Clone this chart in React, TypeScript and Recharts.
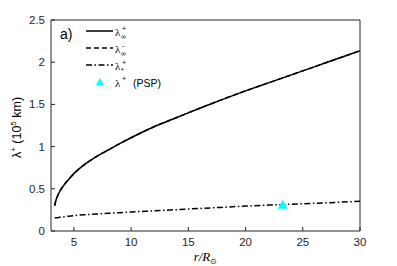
import React from 'react';
import { ComposedChart, Line, Scatter, XAxis, YAxis, Legend, Label } from 'recharts';

// radial distance r / R_sun
const rValues = [3.33, 3.4, 3.5, 3.75, 4, 4.5, 5, 6, 7, 8, 9, 10, 12, 14, 16, 18, 20, 22, 24, 26, 28, 30];
// lambda+ at infinity (10^5 km)
const lambdaInfPlus = [0.3, 0.35, 0.39, 0.465, 0.52, 0.605, 0.68, 0.795, 0.885, 0.96, 1.035, 1.105, 1.235, 1.345, 1.455, 1.56, 1.66, 1.755, 1.85, 1.945, 2.04, 2.135];
// lambda- at infinity, lies under the solid curve
const lambdaInfMinus = [0.3, 0.35, 0.39, 0.465, 0.52, 0.605, 0.68, 0.795, 0.885, 0.96, 1.035, 1.105, 1.235, 1.345, 1.455, 1.56, 1.66, 1.755, 1.85, 1.945, 2.04, 2.135];
// lambda*+
const lambdaStarPlus = [0.155, 0.156, 0.158, 0.162, 0.166, 0.175, 0.183, 0.193, 0.201, 0.209, 0.217, 0.225, 0.239, 0.253, 0.267, 0.281, 0.295, 0.307, 0.318, 0.329, 0.34, 0.352];
// PSP measurement
const pspR = [23.25];
const pspLambda = [0.31];

const xTicks = [5, 10, 15, 20, 25, 30];
const yTicks = [0, 0.5, 1, 1.5, 2, 2.5];

const legendItems = [
  { sup: '+', sub: '\u221e', dash: undefined as string | undefined },
  { sup: '-', sub: '\u221e', dash: '5 3' },
  { sup: '+', sub: '*', dash: '6 2.5 1.5 2.5' },
];

const data = rValues.map((r, i) => ({
  r,
  infPlus: lambdaInfPlus[i],
  infMinus: lambdaInfMinus[i],
  starPlus: lambdaStarPlus[i],
}));
const pspData = pspR.map((r, i) => ({ r, psp: pspLambda[i] }));

const AXIS = '#262626';
const sans = '"Liberation Sans", Arial, sans-serif';
const serif = '"Liberation Serif", "Times New Roman", serif';

const Triangle = (props: any) => {
  const { cx, cy } = props;
  return <polygon points={`${cx},${cy - 5} ${cx - 5},${cy + 4} ${cx + 5},${cy + 4}`} fill="#00ffff" />;
};

const LegendBox = () => (
  <svg width={130} height={80} style={{ display: 'block' }}>
    <text x={10} y={21} fontFamily={sans} fontSize={14} fill="#000">a)</text>
    {legendItems.map((item, i) => {
      const y = 13 + i * 17;
      return (
        <g key={i}>
          <line x1={36} x2={63} y1={y} y2={y} stroke="#000" strokeWidth={1.5} strokeDasharray={item.dash} />
          <text x={65} y={y + 5} fontFamily={serif} fontSize={11}>{'\u03bb'}</text>
          <text x={72} y={y} fontFamily={sans} fontSize={7}>{item.sup}</text>
          <text x={71} y={y + 8} fontFamily={sans} fontSize={7}>{item.sub}</text>
        </g>
      );
    })}
    <polygon points="50,60 46,67 54,67" fill="#00ffff" />
    <text x={65} y={69} fontFamily={serif} fontSize={11}>{'\u03bb'}</text>
    <text x={72} y={63} fontFamily={sans} fontSize={7}>+</text>
    <text x={83} y={69} fontFamily={sans} fontSize={10.5}>(PSP)</text>
  </svg>
);

const YLabel = (props: any) => {
  const { viewBox } = props;
  const cx = 21;
  const cy = viewBox.y + viewBox.height / 2 + 2;
  return (
    <text x={cx} y={cy} transform={`rotate(-90 ${cx} ${cy})`} textAnchor="middle" fontFamily={sans} fontSize={12.5} fill="#000">
      {'\u03bb'}
      <tspan fontSize={8} dy={-5}>+</tspan>
      <tspan dy={5}>{' (10'}</tspan>
      <tspan fontSize={8} dy={-5}>5</tspan>
      <tspan dy={5}>{' km)'}</tspan>
    </text>
  );
};

const XLabel = (props: any) => {
  const { viewBox } = props;
  const cx = viewBox.x + viewBox.width / 2;
  return (
    <text x={cx} y={261} textAnchor="middle" fontFamily={serif} fontSize={13} fontStyle="italic" fill="#000">
      r/R
      <tspan fontSize={8} fontStyle="normal" dy={3}>{'\u2299'}</tspan>
    </text>
  );
};

const App: React.FC = () => {
  const tickStyle = { fontFamily: sans, fontSize: 11.5, fill: AXIS };
  return (
    <div style={{ position: 'absolute', left: 0, top: 0, background: '#fff' }}>
      <ComposedChart width={397} height={266} data={data} margin={{ top: 19, right: 36, left: 0, bottom: 0 }}>
        <XAxis
          xAxisId="main"
          dataKey="r"
          type="number"
          domain={[3, 30]}
          ticks={xTicks}
          allowDataOverflow
          height={35}
          stroke={AXIS}
          tickSize={-4}
          tickMargin={11}
          tick={tickStyle}
        >
          <Label content={XLabel} />
        </XAxis>
        <XAxis
          xAxisId="top"
          orientation="top"
          dataKey="r"
          type="number"
          domain={[3, 30]}
          ticks={xTicks}
          allowDataOverflow
          height={1}
          stroke={AXIS}
          tickSize={-4}
          tick={false}
        />
        <YAxis
          yAxisId="main"
          type="number"
          domain={[0, 2.5]}
          ticks={yTicks}
          width={51}
          stroke={AXIS}
          tickSize={-4}
          tickMargin={10}
          tick={tickStyle}
        >
          <Label content={YLabel} />
        </YAxis>
        <YAxis
          yAxisId="right"
          orientation="right"
          type="number"
          domain={[0, 2.5]}
          ticks={yTicks}
          width={1}
          stroke={AXIS}
          tickSize={-4}
          tick={false}
        />
        <Legend
          layout="vertical"
          align="center"
          verticalAlign="middle"
          content={LegendBox}
          wrapperStyle={{ left: 50, top: 18, width: 130, height: 80 }}
        />
        <Line xAxisId="main" yAxisId="main" type="monotone" dataKey="infMinus" stroke="#000" strokeWidth={1.5} strokeDasharray="5 3" dot={false} isAnimationActive={false} />
        <Line xAxisId="main" yAxisId="main" type="monotone" dataKey="infPlus" stroke="#000" strokeWidth={1.5} dot={false} isAnimationActive={false} />
        <Line xAxisId="main" yAxisId="main" type="monotone" dataKey="starPlus" stroke="#000" strokeWidth={1.5} strokeDasharray="6 2.5 1.5 2.5" dot={false} isAnimationActive={false} />
        <Scatter xAxisId="main" yAxisId="main" data={pspData} dataKey="psp" shape={Triangle} isAnimationActive={false} />
      </ComposedChart>
    </div>
  );
};

export default App;
